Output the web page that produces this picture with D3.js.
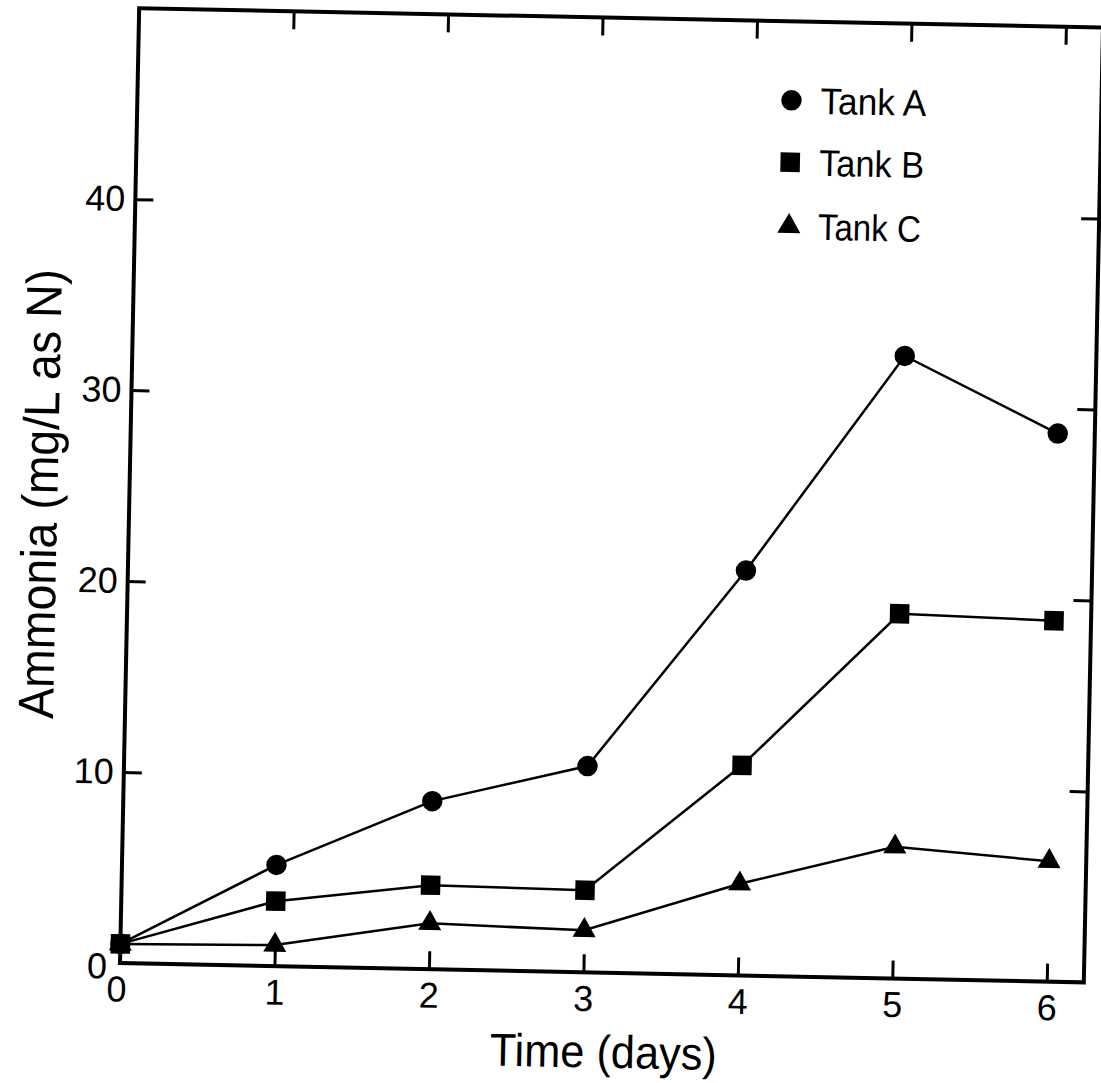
<!DOCTYPE html>
<html>
<head>
<meta charset="utf-8">
<script src="https://cdn.jsdelivr.net/npm/d3@7"></script>
<style>
  body { margin: 0; background: #ffffff; }
</style>
</head>
<body>
<div id="chart"></div>
<script>
// values
const days = [0, 1, 2, 3, 4, 5, 6];
const tankA = [1.0, 5.3, 8.8, 10.8, 21.2, 32.6, 28.7];
const tankB = [1.0, 3.4, 4.4, 4.3, 11.0, 19.1, 18.9];
const tankC = [1.0, 1.1, 2.4, 2.2, 4.8, 6.9, 6.3];
const seriesNames = ["Tank A", "Tank B", "Tank C"];
const xTickValues = [1, 2, 3, 4, 5, 6];
const yTickValues = [10, 20, 30, 40];

class Chart {
    constructor() {
        const attrs = {
            svgWidth: 1101,
            svgHeight: 1083,
            marginTop: 8,
            marginLeft: 120,
            marginRight: 17,
            marginBottom: 120,
            skew: 1.15, // the scan is slightly turned
            container: "#chart",
            defaultFont: "'Liberation Sans', Arial, sans-serif",
            ink: "#000"
        };
        this.getState = () => attrs;
        this.setState = (d) => Object.assign(attrs, d);
    }

    render() {
        this.calculateProperties();
        this.drawSvgAndWrappers();
        this.drawAxes();
        this.drawLines();
        this.drawLegend();
        return this;
    }

    calculateProperties() {
        const { svgWidth, svgHeight, marginLeft, marginRight, marginTop, marginBottom } = this.getState();
        const chartWidth = svgWidth - marginLeft - marginRight;
        const chartHeight = svgHeight - marginTop - marginBottom;

        const x = d3.scaleLinear().domain([0, 6.24]).range([0, chartWidth]);
        const y = d3.scaleLinear().domain([0, 50]).range([chartHeight, 0]);

        this.setState({ chartWidth, chartHeight, x, y });
    }

    drawSvgAndWrappers() {
        const { container, svgWidth, svgHeight, defaultFont, marginLeft, marginTop, chartHeight, skew } = this.getState();

        const svg = d3.select(container).append("svg")
            .attr("width", svgWidth)
            .attr("height", svgHeight)
            .attr("font-family", defaultFont);

        svg.append("rect").attr("width", svgWidth).attr("height", svgHeight).attr("fill", "#fff");

        const chart = svg.append("g")
            .attr("transform", `translate(${marginLeft},${marginTop}) rotate(${skew},0,${chartHeight})`);

        this.setState({ svg, chart });
    }

    drawAxes() {
        const { chart, x, y, chartWidth, chartHeight, ink } = this.getState();
        const tick = 18;
        const fmt = d3.format("d");

        const styleAxis = (g) => {
            g.select(".domain").remove();
            g.selectAll(".tick line").attr("stroke", ink).attr("stroke-width", 3);
            g.selectAll(".tick text").attr("fill", ink).attr("font-size", 36);
        };

        chart.append("g")
            .attr("transform", `translate(0,${chartHeight})`)
            .call(d3.axisBottom(x).tickValues(xTickValues).tickFormat(fmt)
                .tickSizeInner(-tick).tickSizeOuter(0).tickPadding(13))
            .call(styleAxis);

        chart.append("g")
            .call(d3.axisTop(x).tickValues(xTickValues).tickSizeInner(-tick).tickSizeOuter(0).tickFormat(""))
            .call(styleAxis);

        chart.append("g")
            .call(d3.axisLeft(y).tickValues(yTickValues).tickFormat(fmt)
                .tickSizeInner(-tick).tickSizeOuter(0).tickPadding(10))
            .call(styleAxis);

        chart.append("g")
            .attr("transform", `translate(${chartWidth},0)`)
            .call(d3.axisRight(y).tickValues(yTickValues).tickSizeInner(-tick).tickSizeOuter(0).tickFormat(""))
            .call(styleAxis);

        // the two zeros sit apart in the corner
        chart.append("text")
            .attr("x", x(0) - 3)
            .attr("y", chartHeight + 13)
            .attr("dy", "0.71em")
            .attr("text-anchor", "middle")
            .attr("font-size", 36)
            .text("0");

        chart.append("text")
            .attr("x", x(0) - 13)
            .attr("y", y(0) + 3)
            .attr("dy", "0.35em")
            .attr("text-anchor", "end")
            .attr("font-size", 36)
            .text("0");

        // frame
        chart.append("rect")
            .attr("width", chartWidth)
            .attr("height", chartHeight)
            .attr("fill", "none")
            .attr("stroke", ink)
            .attr("stroke-width", 4);

        chart.append("text")
            .attr("x", chartWidth / 2 + 3)
            .attr("y", chartHeight + 95)
            .attr("text-anchor", "middle")
            .attr("font-size", 46)
            .attr("textLength", 227)
            .attr("lengthAdjust", "spacingAndGlyphs")
            .text("Time (days)");

        chart.append("text")
            .attr("transform", `translate(-72,${chartHeight / 2 + 10}) rotate(-90)`)
            .attr("text-anchor", "middle")
            .attr("font-size", 50)
            .attr("textLength", 450)
            .attr("lengthAdjust", "spacingAndGlyphs")
            .text("Ammonia (mg/L as N)");
    }

    drawLines() {
        const { chart, x, y, ink } = this.getState();

        const series = [tankA, tankB, tankC].map((vals, i) => ({
            name: seriesNames[i],
            points: days.map((d, j) => ({ day: d, value: vals[j] }))
        }));
        const symbols = [d3.symbol().type(d3.symbolCircle).size(330),
                         d3.symbol().type(d3.symbolSquare).size(380),
                         d3.symbol().type(d3.symbolTriangle).size(230)];

        const line = d3.line().x(d => x(d.day)).y(d => y(d.value));

        const groups = chart.selectAll(".series").data(series).join("g").attr("class", "series");

        groups.append("path")
            .attr("d", d => line(d.points))
            .attr("fill", "none")
            .attr("stroke", ink)
            .attr("stroke-width", 2.5);

        groups.each(function (s, i) {
            d3.select(this).selectAll(".mark")
                .data(s.points)
                .join("path")
                .attr("class", "mark")
                .attr("transform", d => `translate(${x(d.day)},${y(d.value)})`)
                .attr("d", symbols[i])
                .attr("fill", ink);
        });

        this.setState({ symbols });
    }

    drawLegend() {
        const { chart, symbols, ink } = this.getState();
        const rows = [79, 141, 205];
        const widths = [106, 105, 103];

        const legend = chart.append("g").attr("transform", "translate(654,0)");
        const items = legend.selectAll(".legend-item").data(seriesNames).join("g")
            .attr("class", "legend-item")
            .attr("transform", (d, i) => `translate(0,${rows[i]})`);

        items.append("path")
            .attr("d", (d, i) => symbols[i]())
            .attr("fill", ink);

        items.append("text")
            .attr("x", 29)
            .attr("y", 13)
            .attr("font-size", 37)
            .attr("textLength", (d, i) => widths[i])
            .attr("lengthAdjust", "spacingAndGlyphs")
            .text(d => d);
    }
}

new Chart().render();
</script>
</body>
</html>
